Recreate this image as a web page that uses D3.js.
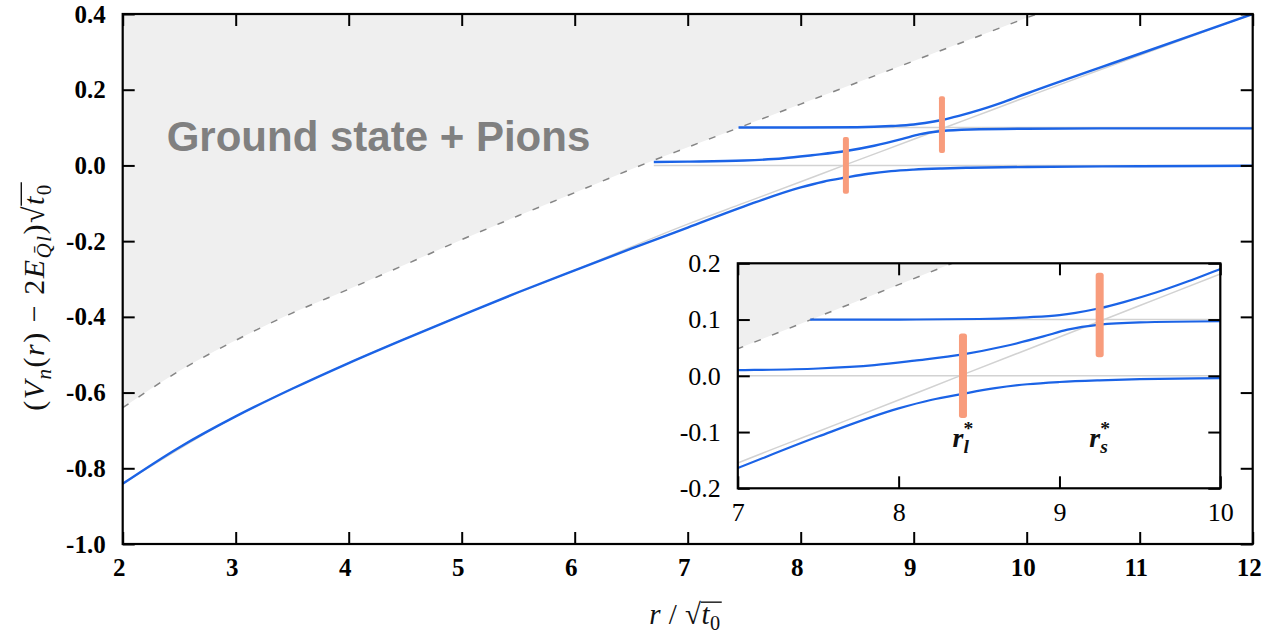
<!DOCTYPE html>
<html><head><meta charset="utf-8">
<script src="https://cdn.jsdelivr.net/npm/d3@7"></script>
<style>body{margin:0;background:#fff}svg{display:block}</style>
</head><body>
<svg id="c" width="1263" height="636"></svg>
<script>
// ---------- data ----------
const xTicks = [2,3,4,5,6,7,8,9,10,11,12];
const xTickLabels = ["2","3","4","5","6","7","8","9","10","11","12"];
const yTicks = [-1.0,-0.8,-0.6,-0.4,-0.2,0.0,0.2,0.4];
const yTickLabels = ["-1.0","-0.8","-0.6","-0.4","-0.2","0.0","0.2","0.4"];
const insetXTicks = [7,8,9,10];
const insetXTickLabels = ["7","8","9","10"];
const insetYTicks = [-0.2,-0.1,0.0,0.1,0.2];
const insetYTickLabels = ["-0.2","-0.1","0.0","0.1","0.2"];

// threshold "ground state + pions" (dashed boundary of shaded region)
const thresholdR = [2, 2.5, 3, 3.5, 4, 4.5, 5, 5.5, 6, 6.5, 7, 7.5, 8, 8.5, 9, 9.5, 10, 10.1];
const thresholdV = [-0.640,-0.543,-0.462,-0.390,-0.327,-0.262,-0.196,-0.133,-0.072,-0.010,0.048,0.105,0.162,0.219,0.276,0.333,0.390,0.401];

// ground state level
const groundR = [2, 2.5, 3, 3.5, 4, 4.5, 5, 5.5, 6, 6.5, 7, 7.5, 8, 8.2, 8.4, 8.6, 8.8, 9, 9.25, 9.5, 10, 11, 12];
const groundV = [-0.841,-0.745,-0.663,-0.590,-0.522,-0.458,-0.396,-0.335,-0.277,-0.220,-0.164,-0.108,-0.058,-0.043,-0.032,-0.022,-0.015,-0.011,-0.008,-0.006,-0.004,-0.002,-0.001];

// first excited level
const level2R = [6.7, 7, 7.5, 7.85, 8.1, 8.4, 8.65, 8.9, 9.05, 9.25, 9.5, 10, 11, 12];
const level2V = [0.009,0.010,0.013,0.019,0.027,0.038,0.052,0.070,0.082,0.091,0.095,0.097,0.098,0.098];

// second excited level
const level3R = [7.45, 8, 8.5, 8.8, 9, 9.1, 9.25, 9.4, 9.6, 9.8, 10, 11, 12];
const level3V = [0.100,0.100,0.101,0.104,0.108,0.112,0.120,0.131,0.148,0.168,0.190,0.295,0.400];

// unmixed string state (thin gray)
const stringR = [2, 3, 4, 5, 6, 7, 7.5, 8, 8.4, 9, 9.5, 10, 11, 12];
const stringV = [-0.841,-0.663,-0.522,-0.396,-0.277,-0.155,-0.099,-0.043,0.002,0.069,0.125,0.181,0.291,0.400];

// two-meson levels (thin gray horizontals)
const meson1R = [6.7, 12];  const meson1V = [0.0, 0.0];
const meson2R = [7.45, 12]; const meson2V = [0.1, 0.1];

// string-breaking distances (salmon bars)
const crossR = [8.4, 9.25];
const crossLow = [-0.075, 0.033];
const crossHigh = [0.075, 0.183];
const crossSub = ["l", "s"];

// ---------- drawing ----------
const svg = d3.select("#c");
const BLUE = "#1b63e6", GRAYL = "#d2d2d2", SALMON = "#f89c7c";
const SERIF = "'Liberation Serif','Times New Roman',serif";

const main = {
  x: d3.scaleLinear().domain([2,12]).range([122.7,1252.7]),
  y: d3.scaleLinear().domain([-1,0.4]).range([544,14])
};
const inset = {
  x: d3.scaleLinear().domain([7,10]).range([737.8,1220.3]),
  y: d3.scaleLinear().domain([-0.2,0.2]).range([488.3,263.3])
};
const pts = (xs, ys) => xs.map((d,i) => [d, ys[i]]);

function panel(id, sc, o) {
  const [x0,x1] = sc.x.range(), [yb,yt] = sc.y.range();
  const g = svg.append("g");
  g.append("clipPath").attr("id", id).append("rect")
    .attr("x", x0).attr("y", yt).attr("width", x1-x0).attr("height", yb-yt);
  g.append("rect").attr("x", x0).attr("y", yt).attr("width", x1-x0).attr("height", yb-yt).attr("fill", "#fff");
  const pg = g.append("g").attr("clip-path", `url(#${id})`);

  const area = d3.area().x(d => sc.x(d[0])).y0(yt).y1(d => sc.y(d[1])).curve(d3.curveMonotoneX);
  const line = d3.line().x(d => sc.x(d[0])).y(d => sc.y(d[1])).curve(d3.curveMonotoneX);

  pg.append("path").datum(pts(thresholdR, thresholdV)).attr("d", area).attr("fill", "#efefef");
  pg.append("path").datum(pts(thresholdR, thresholdV)).attr("d", line)
    .attr("fill","none").attr("stroke","#858585").attr("stroke-width",1.5).attr("stroke-dasharray","7,12");

  [[meson1R,meson1V],[meson2R,meson2V],[stringR,stringV]].forEach(([a,b]) =>
    pg.append("path").datum(pts(a,b)).attr("d", line).attr("fill","none")
      .attr("stroke", GRAYL).attr("stroke-width", 1.5));

  [[groundR,groundV],[level2R,level2V],[level3R,level3V]].forEach(([a,b]) =>
    pg.append("path").datum(pts(a,b)).attr("d", line).attr("fill","none")
      .attr("stroke", BLUE).attr("stroke-width", o.lw));

  pg.selectAll("rect.bar").data(crossR).join("rect").attr("class","bar")
    .attr("x", d => sc.x(d) - o.bw/2).attr("width", o.bw)
    .attr("y", (d,i) => sc.y(crossHigh[i]))
    .attr("height", (d,i) => sc.y(crossLow[i]) - sc.y(crossHigh[i]))
    .attr("rx", o.bw/3).attr("fill", SALMON);

  // axes
  const style = (a) => {
    a.select(".domain").remove();
    a.selectAll(".tick line").attr("stroke","#000").attr("stroke-width",2);
    a.selectAll("text").attr("font-family", SERIF).attr("font-size", o.fs)
      .attr("font-weight", o.bold ? "bold" : "normal").attr("fill","#000");
  };
  const fmt = (ticks, labels) => d => labels[ticks.indexOf(d)];
  const bx = g.append("g").attr("transform",`translate(0,${yb})`)
    .call(d3.axisBottom(sc.x).tickValues(o.xt).tickFormat(fmt(o.xt,o.xl)).tickSizeInner(-12).tickSizeOuter(0).tickPadding(o.xpad)).call(style);
  bx.selectAll("text").attr("dx", o.xdx || 0);
  g.append("g").attr("transform",`translate(0,${yt})`)
    .call(d3.axisTop(sc.x).tickValues(o.xt).tickFormat("").tickSizeInner(-12).tickSizeOuter(0)).call(style);
  g.append("g").attr("transform",`translate(${x0},0)`)
    .call(d3.axisLeft(sc.y).tickValues(o.yt).tickFormat(fmt(o.yt,o.yl)).tickSizeInner(-12).tickSizeOuter(0).tickPadding(o.ypad)).call(style);
  g.append("g").attr("transform",`translate(${x1},0)`)
    .call(d3.axisRight(sc.y).tickValues(o.yt).tickFormat("").tickSizeInner(-12).tickSizeOuter(0)).call(style);
  g.append("rect").attr("x", x0).attr("y", yt).attr("width", x1-x0).attr("height", yb-yt)
    .attr("fill","none").attr("stroke","#000").attr("stroke-width",2.2);
  return g;
}

function mathText(g, parts, fs, attrs) {
  const t = g.append("text").attr("font-family", SERIF).attr("font-size", fs).attr("fill", "#111");
  Object.entries(attrs || {}).forEach(([k,v]) => t.attr(k, v));
  let shift = 0;
  const spans = [];
  parts.forEach(p => {
    const ts = t.append("tspan").text(p.t);
    if (p.i) ts.attr("font-style","italic");
    if (p.b) ts.attr("font-weight","bold");
    const target = p.sub ? fs*0.22 : p.sup ? -fs*0.42 : 0;
    ts.attr("dy", target - shift); shift = target;
    if (p.sub || p.sup) ts.attr("font-size", fs*0.7);
    if (p.dx) ts.attr("dx", p.dx);
    spans.push(ts);
  });
  return {t, spans};
}
function sqrtBar(g, t, parts, fs) {
  let idx = 0, si = -1;
  parts.forEach(p => { if (p.t === "\u221A") si = idx; idx += p.t.length; });
  const node = t.node();
  const e1 = node.getExtentOfChar(si), e2 = node.getExtentOfChar(node.getNumberOfChars()-1);
  const yb = e1.y + e1.height*0.13;
  g.append("line").attr("x1", e1.x + e1.width - 0.8).attr("x2", e2.x + e2.width + 1)
    .attr("y1", yb).attr("y2", yb).attr("stroke","#111").attr("stroke-width", 1.4);
}

panel("clipMain", main, {lw:2.4, bw:6, fs:25, bold:true, xt:xTicks, xl:xTickLabels, yt:yTicks, yl:yTickLabels, xpad:14, ypad:17, xdx:-4});

svg.append("text").attr("x",166.7).attr("y",151)
  .attr("font-family","'Liberation Sans',Arial,sans-serif").attr("font-weight","bold")
  .attr("font-size",42).attr("fill","#808080").text("Ground state + Pions");

const ig = panel("clipInset", inset, {lw:2.2, bw:8, fs:26, bold:false, xt:insetXTicks, xl:insetXTickLabels, yt:insetYTicks, yl:insetYTickLabels, xpad:14, ypad:17});

crossR.forEach((r,i) => {
  const g = ig.append("g").attr("transform", `translate(${inset.x(r)},${inset.y(crossLow[0]) + 29})`);
  const m = mathText(g, [{t:"r", i:true, b:true}, {t:crossSub[i], i:true, b:true, sub:true}], 28, {"text-anchor":"middle"});
  const w = m.spans[1].node().getComputedTextLength();
  m.t.append("tspan").text("*").attr("font-weight","bold").attr("font-size",28*0.7)
     .attr("dx", -w).attr("dy", -28*0.22 - 28*0.42);
});

// x title
const xg = svg.append("g").attr("transform","translate(685,624)");
const xParts = [{t:"r", i:true},{t:" / "},{t:"\u221A"},{t:"t", i:true},{t:"0", sub:true}];
const xm = mathText(xg, xParts, 29, {"text-anchor":"middle", "letter-spacing": 0.5});
sqrtBar(xg, xm.t, xParts, 29);

// y title
const yg = svg.append("g").attr("transform","translate(44,297) rotate(-90)");
const yParts = [{t:"("},{t:"V", i:true},{t:"n", i:true, sub:true},{t:"("},{t:"r", i:true},{t:")"},
  {t:" \u2212 2"},{t:"E", i:true},{t:"Q\u0304l", i:true, sub:true},{t:")"},{t:"\u221A"},{t:"t", i:true},{t:"0", sub:true}];
const ym = mathText(yg, yParts, 30, {"text-anchor":"middle", "letter-spacing": 1.5});
sqrtBar(yg, ym.t, yParts, 30);
</script>
</body></html>
